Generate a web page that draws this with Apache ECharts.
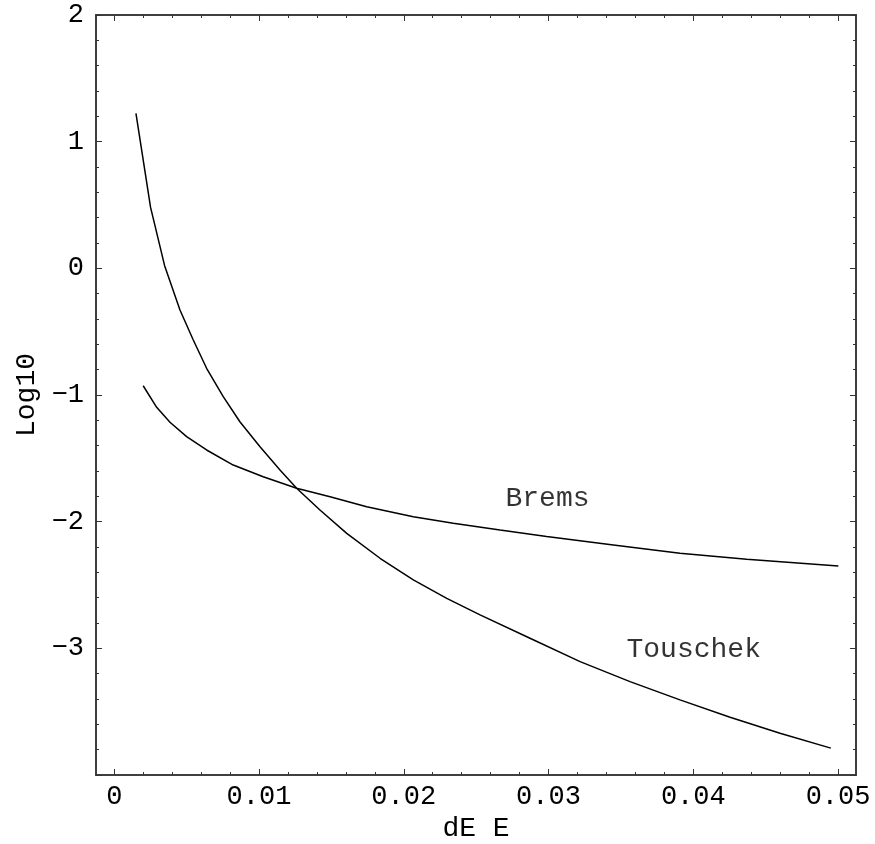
<!DOCTYPE html>
<html>
<head>
<meta charset="utf-8">
<script src="https://cdn.jsdelivr.net/npm/echarts@6/dist/echarts.min.js"></script>
<style>
	html, body { margin: 0; padding: 0; background: #fff; }
	#chart { width: 875px; height: 844px; }
</style>
</head>
<body>
<div id="chart"></div>
<script>
// Touschek curve: [dE/E, log10]
var touschek = [
	[0.00150, 1.223], [0.00251, 0.481], [0.00348, 0.021], [0.00454, -0.329],
	[0.00546, -0.566], [0.00638, -0.789], [0.00753, -1.013], [0.00868, -1.211],
	[0.01007, -1.408], [0.01145, -1.592], [0.01260, -1.736], [0.01421, -1.908],
	[0.01606, -2.092], [0.01836, -2.289], [0.02066, -2.460], [0.02297, -2.605],
	[0.02527, -2.736], [0.02872, -2.920], [0.03218, -3.105], [0.03563, -3.263],
	[0.03908, -3.407], [0.04254, -3.544], [0.04599, -3.670], [0.04950, -3.788]
];

// Brems curve
var brems = [
	[0.00200, -0.927], [0.00293, -1.097], [0.00385, -1.215], [0.00500, -1.329],
	[0.00638, -1.434], [0.00822, -1.553], [0.01029, -1.645], [0.01260, -1.736],
	[0.01491, -1.803], [0.01744, -1.882], [0.02066, -1.961], [0.02342, -2.013],
	[0.02665, -2.066], [0.02987, -2.118], [0.03448, -2.184], [0.03908, -2.249],
	[0.04369, -2.297], [0.05002, -2.350]
];

// curve labels
var curveLabels = [
	{ name: 'Brems', value: [0.02993, -1.816] },
	{ name: 'Touschek', value: [0.04003, -3.013] }
];

var xMajor = [0, 0.01, 0.02, 0.03, 0.04, 0.05];
var xMinor = [0.002, 0.004, 0.006, 0.008, 0.012, 0.014, 0.016, 0.018, 0.022, 0.024, 0.026, 0.028,
	0.032, 0.034, 0.036, 0.038, 0.042, 0.044, 0.046, 0.048];
var yMajor = [-4, -3, -2, -1, 0, 1, 2];
var yLabels = [-3, -2, -1, 0, 1, 2];
var yMinor = [-3.8, -3.6, -3.4, -3.2, -2.8, -2.6, -2.4, -2.2, -1.8, -1.6, -1.4, -1.2,
	-0.8, -0.6, -0.4, -0.2, 0.2, 0.4, 0.6, 0.8, 1.2, 1.4, 1.6, 1.8];

var xMin = -0.00126, xMax = 0.05124;
var yMin = -4, yMax = 2;

var font = '"Liberation Mono", "Courier New", monospace';
var frameColor = '#333';

function tickAxis(kind, position, ticks, len, labels)
{
	var ax =
	{
		type: 'value',
		position: position,
		min: kind == 'x' ? xMin : yMin,
		max: kind == 'x' ? xMax : yMax,
		splitLine: { show: false },
		axisLine: { show: true, onZero: false, lineStyle: { color: frameColor, width: 1.5 } },
		axisTick: { show: true, inside: true, length: len, customValues: ticks, lineStyle: { color: frameColor, width: 1 } },
		axisLabel: { show: false }
	};
	if (labels)
	{
		ax.axisLabel =
		{
			show: true,
			customValues: labels,
			color: '#000',
			fontFamily: font,
			fontSize: 27,
			margin: kind == 'x' ? 8 : 12,
			formatter: function(v)
			{
				if (v < 0) return '\u2212' + Math.abs(v);
				return '' + v;
			}
		};
	}
	return ax;
}

var xAxes =
[
	tickAxis('x', 'bottom', xMajor, 6, xMajor),
	tickAxis('x', 'bottom', xMinor, 3),
	tickAxis('x', 'top', xMajor, 6),
	tickAxis('x', 'top', xMinor, 3)
];
xAxes[0].name = 'dE E';
xAxes[0].nameLocation = 'middle';
xAxes[0].nameGap = 38;
xAxes[0].nameTextStyle = { color: '#000', fontFamily: font, fontSize: 28 };

var yAxes =
[
	tickAxis('y', 'left', yMajor, 6, yLabels),
	tickAxis('y', 'left', yMinor, 3),
	tickAxis('y', 'right', yMajor, 6),
	tickAxis('y', 'right', yMinor, 3)
];
yAxes[0].name = 'Log10';
yAxes[0].nameLocation = 'middle';
yAxes[0].nameGap = 50;
yAxes[0].nameTextStyle = { color: '#000', fontFamily: font, fontSize: 28 };

var chart = echarts.init(document.getElementById('chart'), null, { renderer: 'canvas' });

var options =
{
	animation: false,
	backgroundColor: '#fff',
	grid: { left: 96, top: 15, right: 19, bottom: 69, containLabel: false, outerBoundsMode: 'none' },
	xAxis: xAxes,
	yAxis: yAxes,
	series:
	[
		{
			name: 'Touschek',
			type: 'line',
			data: touschek,
			showSymbol: false,
			symbol: 'none',
			lineStyle: { color: '#000', width: 1.5 }
		},
		{
			name: 'Brems',
			type: 'line',
			data: brems,
			showSymbol: false,
			symbol: 'none',
			lineStyle: { color: '#000', width: 1.5 }
		},
		{
			name: 'labels',
			type: 'scatter',
			data: curveLabels,
			symbolSize: 1,
			itemStyle: { color: 'rgba(0,0,0,0)' },
			label:
			{
				show: true,
				position: 'inside',
				formatter: '{b}',
				color: '#000',
				fontFamily: font,
				fontSize: 28
			}
		}
	]
};

chart.setOption(options);
</script>
</body>
</html>
